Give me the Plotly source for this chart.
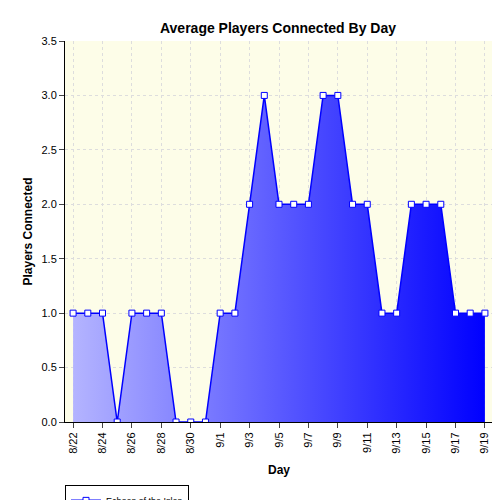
import plotly.graph_objects as go

days = ["8/22","8/23","8/24","8/25","8/26","8/27","8/28","8/29","8/30","8/31",
        "9/1","9/2","9/3","9/4","9/5","9/6","9/7","9/8","9/9","9/10",
        "9/11","9/12","9/13","9/14","9/15","9/16","9/17","9/18","9/19"]
players = [1,1,1,0,1,1,1,0,0,0,1,1,2,3,2,2,2,3,3,2,2,1,1,2,2,2,1,1,1]
tick_labels = days[::2]
idx = list(range(len(days)))

fig = go.Figure()
fig.add_trace(go.Scatter(
    x=idx, y=players, mode="lines+markers", name="Echoes of the Isles",
    line=dict(color="#0000ff", width=1.5),
    marker=dict(symbol="square", size=6, color="white", line=dict(color="#0000ff", width=1)),
    fill="tozeroy",
    fillgradient=dict(type="horizontal", colorscale=[[0, "#b4b4ff"], [1, "#0000ff"]]),
))
fig.update_layout(
    width=500, height=500, paper_bgcolor="white",
    plot_bgcolor="#fdfde8",
    margin=dict(l=57, r=15, t=33, b=86, autoexpand=False),
    title=dict(text="<b>Average Players Connected By Day</b>", x=0.54, y=0.97,
               font=dict(family="Arial", size=14, color="black")),
    font=dict(family="Arial", size=11, color="black"),
    showlegend=True,
    legend=dict(x=0.0, y=-0.165, xanchor="left", yanchor="top", bordercolor="black",
                borderwidth=1, font=dict(size=9), bgcolor="white"),
)
fig.update_xaxes(range=[-0.55, 28.55], tickvals=idx[::2], ticktext=tick_labels, tickangle=-90,
                 showline=True, linecolor="black", ticks="outside", automargin=False,
                 showgrid=True, gridcolor="#dddddd", griddash="dot", zeroline=False,
                 title=dict(text="<b>Day</b>", font=dict(size=12), standoff=12))
fig.update_yaxes(range=[0, 3.5], dtick=0.5, tickformat=".1f", showline=True, linecolor="black",
                 ticks="outside", showgrid=True, gridcolor="#dddddd", griddash="dot", zeroline=False,
                 automargin=False,
                 title=dict(text="<b>Players Connected</b>", font=dict(size=12), standoff=6))
fig.write_html("out.html")
